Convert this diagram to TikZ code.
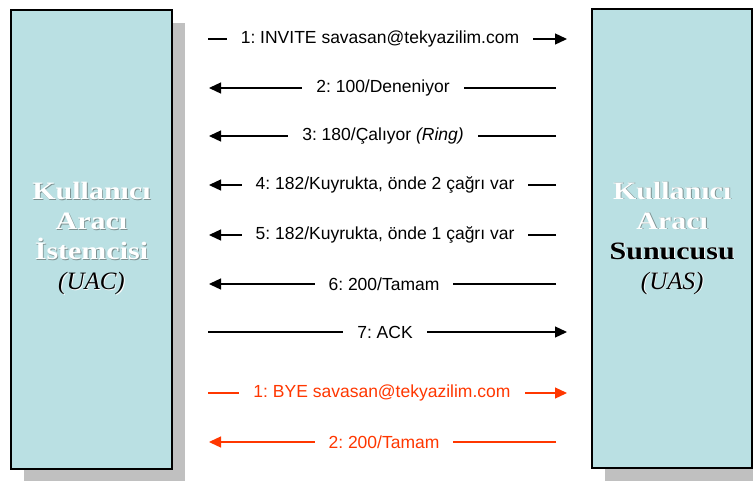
\documentclass[tikz,border=0pt]{standalone}
\usepackage{fontspec}
\setmainfont{Liberation Sans}
\newfontfamily\boxfont[FakeStretch=1.2]{Liberation Serif}
\newfontfamily\boxitfont{Liberation Serif}
\usetikzlibrary{arrows.meta,shadows}
\definecolor{boxfill}{RGB}{186,224,227}
\definecolor{boxshade}{RGB}{192,192,192}
\definecolor{byered}{RGB}{255,55,0}
\definecolor{embossdark}{RGB}{125,145,145}
% text with a small offset shadow behind it
\newcommand\embossed[3]{\leavevmode\rlap{\kern0.9pt\raisebox{-0.9pt}{\textcolor{#2}{#3}}}\textcolor{#1}{#3}}
\frenchspacing

\begin{document}
\begin{tikzpicture}[x=1pt,y=-1pt,
  agent/.style={draw=black,line width=1.5pt,fill=boxfill,
    minimum height=459pt,align=center,inner sep=0pt,
    general shadow={fill=boxshade,shadow xshift=13pt,shadow yshift=-13pt},
    font=\boxfont\fontsize{25}{30}\selectfont},
  msg/.style={line width=1.3pt,-{Triangle[length=12pt,width=11pt]}},
  byemsg/.style={msg,draw=byered},
  lbl/.style={fill=white,inner xsep=14pt,inner ysep=2pt,
    font=\fontsize{17.5}{21}\selectfont},
  byelbl/.style={lbl,text=byered}]
\clip (0,0) rectangle (753,480);

% the two user agents
\node[agent,minimum width=161pt] (uac) at (91.5,239.25) {%
  \embossed{white}{embossdark}{\bfseries Kullanıcı}\\
  \embossed{white}{embossdark}{\bfseries Aracı}\\
  \embossed{white}{embossdark}{\bfseries İstemcisi}\\
  \embossed{black}{white}{\boxitfont\itshape (UAC)}};
\node[agent,minimum width=160pt] (uas) at (672.2,238.5) {%
  \embossed{white}{embossdark}{\bfseries Kullanıcı}\\
  \embossed{white}{embossdark}{\bfseries Aracı}\\
  \embossed{black}{white}{\bfseries Sunucusu}\\
  \embossed{black}{white}{\boxitfont\itshape (UAS)}};

% end points of the messages
\coordinate (l1) at (208,39);  \coordinate (r1) at (567,39);
\coordinate (l2) at (209,88);  \coordinate (r2) at (556,88);
\coordinate (l3) at (209,136); \coordinate (r3) at (556,136);
\coordinate (l4) at (209,185); \coordinate (r4) at (556,185);
\coordinate (l5) at (209,235); \coordinate (r5) at (556,235);
\coordinate (l6) at (209,284); \coordinate (r6) at (556,284);
\coordinate (l7) at (208,332); \coordinate (r7) at (567,332);
\coordinate (l8) at (208,393); \coordinate (r8) at (567,393);
\coordinate (l9) at (209,442); \coordinate (r9) at (556,442);

% call set-up
\draw[msg] (l1) -- (r1);
\node[lbl] (m1) at (380,39) {1: INVITE savasan@tekyazilim.com};
\draw[msg] (r2) -- (l2);
\node[lbl] (m2) at (383,88) {2: 100/Deneniyor};
\draw[msg] (r3) -- (l3);
\node[lbl] (m3) at (383,136) {3: 180/Çalıyor \textit{(Ring)}};
\draw[msg] (r4) -- (l4);
\node[lbl] (m4) at (385,185) {4: 182/Kuyrukta, önde 2 çağrı var};
\draw[msg] (r5) -- (l5);
\node[lbl] (m5) at (385,235) {5: 182/Kuyrukta, önde 1 çağrı var};
\draw[msg] (r6) -- (l6);
\node[lbl] (m6) at (384,284) {6: 200/Tamam};
\draw[msg] (l7) -- (r7);
\node[lbl] (m7) at (385,332) {7: ACK};

% call tear-down
\draw[byemsg] (l8) -- (r8);
\node[byelbl] (m8) at (382,393) {1: BYE savasan@tekyazilim.com};
\draw[byemsg] (r9) -- (l9);
\node[byelbl] (m9) at (384,442) {2: 200/Tamam};
\end{tikzpicture}
\end{document}
